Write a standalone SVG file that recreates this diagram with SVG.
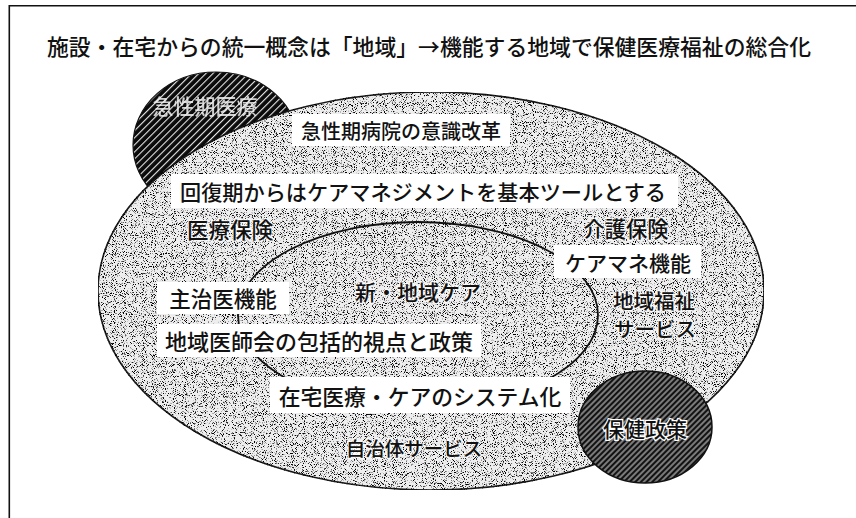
<svg xmlns="http://www.w3.org/2000/svg" width="856" height="518" viewBox="0 0 856 518">
<style>
text{font-family:"Noto Sans CJK JP","Noto Sans CJK SC",sans-serif;font-weight:500;fill:#111;dominant-baseline:central;text-anchor:middle}
.box{fill:#fff;stroke:none}
.lbl{font-size:21px}
.halo{stroke:#fff;stroke-opacity:0.7;stroke-width:3;paint-order:stroke;stroke-linejoin:round}
.frame{fill:none;stroke:#111;stroke-width:1.6}
</style>
<defs>
<pattern id="hatchDark" width="5" height="5" patternUnits="userSpaceOnUse" patternTransform="rotate(-45)">
<rect width="5" height="5" fill="#0a0a0a"/>
<rect y="2" width="5" height="1.1" fill="#e8e8e8"/>
</pattern>
<pattern id="hatchGray" width="4" height="4" patternUnits="userSpaceOnUse" patternTransform="rotate(-45)">
<rect width="4" height="4" fill="#c0c0c0"/>
<rect y="0.6" width="4" height="2.8" fill="#121212"/>
</pattern>
<filter id="stipple" x="0" y="0" width="1" height="1" color-interpolation-filters="sRGB">
<feTurbulence type="fractalNoise" baseFrequency="1.1" numOctaves="1" seed="7" result="n"/>
<feColorMatrix in="n" type="matrix" values="0 0 0 0 0  0 0 0 0 0  0 0 0 0 0  8 0 0 0 -4.4" result="d"/>
<feComposite in="d" in2="SourceAlpha" operator="in" result="dm"/>
<feMerge><feMergeNode in="SourceGraphic"/><feMergeNode in="dm"/></feMerge>
</filter>
</defs>
<rect width="856" height="518" fill="#fff"/>
<g id="frame">
<path class="frame" d="M9.3 518 V5.8 H856"/>
</g>
<g id="title">
<text x="429" y="45" font-size="22" textLength="764" lengthAdjust="spacingAndGlyphs">施設・在宅からの統一概念は「地域」→機能する地域で保健医療福祉の総合化</text>
</g>
<g id="node-acute-care">
<ellipse cx="216" cy="145" rx="83" ry="73" fill="url(#hatchDark)" stroke="#111" stroke-width="1.2"/>
<text x="205" y="105" class="lbl" style="fill:#f2f2f2" opacity="0.85">急性期医療</text>
</g>
<g id="node-region">
<ellipse cx="431" cy="291" rx="333" ry="199" fill="#eeeeee" stroke="#1a1a1a" stroke-width="1.6" filter="url(#stipple)"/>
</g>
<g id="node-new-local-care">
<ellipse cx="418" cy="315" rx="180" ry="93" fill="none" stroke="#111" stroke-width="1.8"/>
</g>
<g id="connectors"></g>
<g id="label-acute-hospital">
<rect class="box" x="292" y="114" width="218" height="32"/>
<text x="401" y="130" font-size="20">急性期病院の意識改革</text>
</g>
<g id="label-care-management">
<rect class="box" x="171" y="174" width="507" height="34"/>
<text x="423" y="191" font-size="21" textLength="486" lengthAdjust="spacingAndGlyphs">回復期からはケアマネジメントを基本ツールとする</text>
</g>
<g id="label-medical-insurance">
<text x="230" y="228" font-size="21.5" class="halo">医療保険</text>
</g>
<g id="label-care-insurance">
<text x="626" y="227" font-size="21.3" class="halo">介護保険</text>
</g>
<g id="label-caremane">
<rect class="box" x="554" y="245" width="147" height="33"/>
<text x="628" y="262" class="lbl">ケアマネ機能</text>
</g>
<g id="label-primary-doctor">
<rect class="box" x="157" y="282" width="132" height="32"/>
<text x="223" y="297" font-size="21.5">主治医機能</text>
</g>
<g id="label-new-local">
<text x="418" y="291" class="lbl halo">新・地域ケア</text>
</g>
<g id="label-welfare">
<text x="654" y="300" font-size="20.5" class="halo">地域福祉</text>
<text x="655" y="328" font-size="20.5" class="halo">サービス</text>
</g>
<g id="label-medical-assoc">
<rect class="box" x="157" y="324" width="324" height="33"/>
<text x="319" y="340" font-size="22">地域医師会の包括的視点と政策</text>
</g>
<g id="label-home-care">
<rect class="box" x="270" y="377" width="300" height="36"/>
<text x="420" y="395" font-size="21.8">在宅医療・ケアのシステム化</text>
</g>
<g id="label-municipal">
<text x="414" y="447" font-size="19.5" class="halo">自治体サービス</text>
</g>
<g id="node-health-policy">
<ellipse cx="645" cy="427" rx="67" ry="56" fill="url(#hatchGray)" stroke="#111" stroke-width="1.5"/>
<text x="645" y="428" class="lbl" style="stroke:#fff;stroke-width:2.5;paint-order:stroke">保健政策</text>
</g>
</svg>
